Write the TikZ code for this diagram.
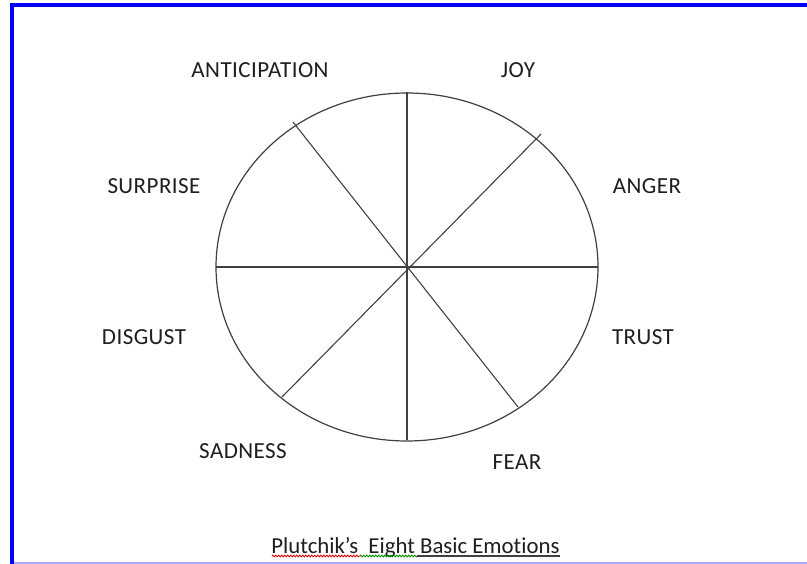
\documentclass[tikz,border=0pt]{standalone}
\usepackage{fontspec}
\setmainfont{Carlito}[Ligatures=NoCommon]
\newfontfamily\emofont{Carlito}[Ligatures=NoCommon,LetterSpace=2]
\usetikzlibrary{decorations.pathmorphing,shapes.geometric}
\definecolor{frameblue}{RGB}{0,0,255}
\definecolor{lightblue}{RGB}{170,170,255}
\definecolor{linegrey}{RGB}{64,64,64}
\definecolor{textdark}{RGB}{30,30,30}
\begin{document}
\begin{tikzpicture}[x=1pt,y=-1pt,
  emo/.style={anchor=base,inner sep=0pt,text=textdark,font=\emofont\fontsize{23}{27}\selectfont},
  caption/.style={anchor=base,inner sep=0pt,text=textdark,font=\fontsize{22.8}{27}\selectfont},
  spoke/.style={draw=linegrey,line width=1.1pt},
  wavy/.style={decorate,decoration={zigzag,segment length=3pt,amplitude=0.9pt},line width=0.8pt}]
\useasboundingbox (0,0) rectangle (807,564);
\fill[white] (0,0) rectangle (807,564);
% frame
\fill[frameblue] (10,3.5) rectangle (807,6.7);
\fill[frameblue] (10,3.5) rectangle (14,564);
\draw[lightblue,line width=1.5pt] (14,563) -- (807,563);
% wheel
\coordinate (c) at (407,267);
\node[draw=linegrey,line width=1.2pt,ellipse,minimum width=382pt,minimum height=348pt,inner sep=0pt] (wheel) at (c) {};
\coordinate (n) at (407,92);
\coordinate (s) at (407,440);
\coordinate (w) at (216,267);
\coordinate (e) at (598,267);
\coordinate (nw) at (293,122);
\coordinate (se) at (518,407);
\coordinate (ne) at (541,134);
\coordinate (sw) at (282,397);
\draw[spoke] (n) -- (s);
\draw[spoke] (w) -- (e);
\draw[spoke] (nw) -- (se);
\draw[spoke] (ne) -- (sw);
% labels
\node[emo] (ant) at (260,77.5) {ANTICIPATION};
\node[emo] (joy) at (518,77.5) {JOY};
\node[emo] (sur) at (154,194) {SURPRISE};
\node[emo] (ang) at (647,194) {ANGER};
\node[emo] (dis) at (144,345) {DISGUST};
\node[emo] (tru) at (643,345) {TRUST};
\node[emo] (sad) at (243,458) {SADNESS};
\node[emo] (fea) at (517,469) {FEAR};
% title
\node[caption] (title) at (415.5,553) {Plutchik’s\ \ Eight Basic Emotions};
\draw[linegrey,line width=1.2pt] (417,556) -- (title.base east |- 0,556);
\draw[wavy,red!85!black] (272,556) -- (360,556);
\draw[wavy,green!55!black] (360,556) -- (417,556);
\end{tikzpicture}
\end{document}
